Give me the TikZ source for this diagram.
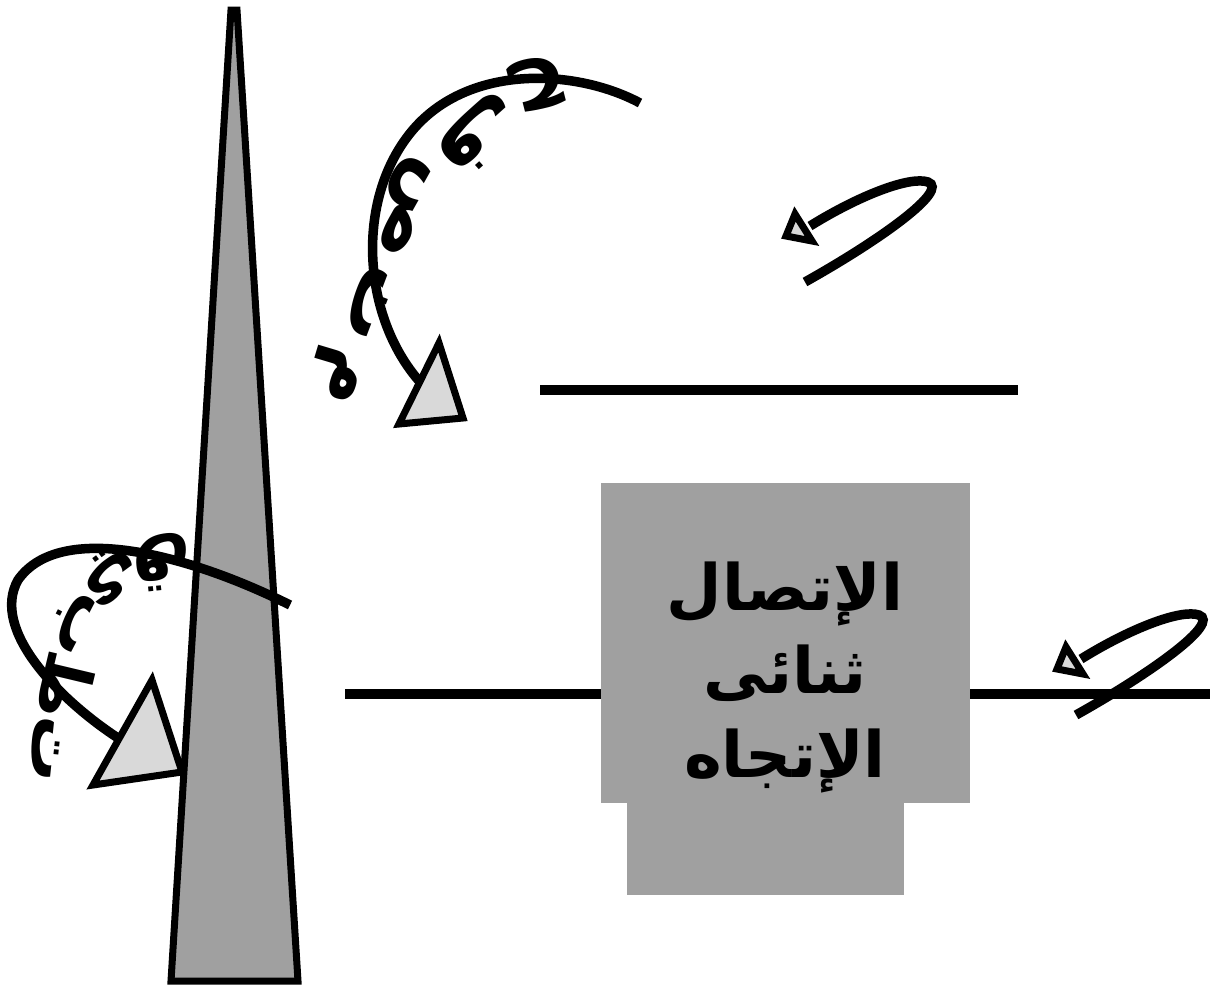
\documentclass[tikz,border=0pt]{standalone}
\usepackage{fontspec}
\usetikzlibrary{decorations.text}
\newfontfamily\arabicfont[Script=Arabic]{DejaVu Sans}
\TeXXeTstate=1
\definecolor{boxgray}{HTML}{A0A0A0}
\definecolor{headgray}{HTML}{D9D9D9}
\begin{document}
\begin{tikzpicture}[x=1pt,y=-1pt,
  conn/.style={line width=9.5pt},
  headtri/.style={draw, line width=7pt, fill=headgray, line join=miter},
  boxpart/.style={fill=boxgray, draw=none, inner sep=0pt},
  boxtext/.style={anchor=base, inner sep=0pt, font=\arabicfont\bfseries\fontsize{64}{83}\selectfont},
  curvetext/.style={decorate, decoration={text along path, text align={fit to path},
     text format delimiters={|}{|}}}]
\fill[white] (0,0) rectangle (1215,989);
\useasboundingbox (0,0) rectangle (1215,989);

% spire
\draw[line width=7pt, fill=boxgray, line join=miter] (231,10) -- (237,10) -- (298,981) -- (171,981) -- cycle;

% horizontal lines
\coordinate (h1a) at (540,390);
\coordinate (h1b) at (1018,390);
\draw[conn] (h1a) -- (h1b);

\coordinate (h2a) at (345,694);
\coordinate (h2b) at (1210,694);

% box
\node[boxpart, minimum width=277pt, minimum height=95pt] (boxlow) at (765.5,847) {};
\node[boxpart, minimum width=369pt, minimum height=320pt] (box) at (785.5,643) {};
\draw[conn] (h2a) -- (box.west |- h2a);
\draw[conn] (box.east |- h2b) -- (h2b);
\node[boxtext] (t1) at (785,610) {\beginR الإتصال\endR};
\node[boxtext] (t2) at (785,693) {\beginR ثنائى\endR};
\node[boxtext] (t3) at (785,777) {\beginR الإتجاه\endR};

% upper arc
\coordinate (ua) at (640,103);
\coordinate (ub) at (420,382);
\draw[conn] (ua) .. controls (575,68) and (460,62) .. (405,140) .. controls (355,210) and (365,320) .. (ub);
\coordinate (uh1) at (439,343);
\coordinate (uh2) at (463,418);
\coordinate (uh3) at (399,424);
\draw[headtri] (uh1) -- (uh2) -- (uh3) -- cycle;
\path[curvetext, decoration={text={|\arabicfont\bfseries\fontsize{78}{78}\selectfont|حفصتم}}]
  (565,72) .. controls (450,80) and (375,210) .. (322,400);

% left arc
\coordinate (la) at (290,605);
\coordinate (lb) at (118,738);
\draw[conn] (la) .. controls (190,555) and (60,520) .. (18,580) .. controls (-10,630) and (60,700) .. (lb);
\coordinate (lh1) at (152,680);
\coordinate (lh2) at (182,772);
\coordinate (lh3) at (93,785);
\draw[headtri] (lh1) -- (lh2) -- (lh3) -- cycle;
\path[curvetext, decoration={text={|\arabicfont\bfseries\fontsize{66}{66}\selectfont|قيبطت}}]
  (190,548) .. controls (95,540) and (42,610) .. (30,770);

% small arrows
\coordinate (sa) at (805,282);
\coordinate (sb) at (810,226);
\draw[conn] (sa) .. controls (880,240) and (950,190) .. (928,182) .. controls (910,176) and (860,195) .. (sb);
\coordinate (sh1) at (795,214);
\coordinate (sh2) at (812,241);
\coordinate (sh3) at (786,236);
\draw[headtri] (sh1) -- (sh2) -- (sh3) -- cycle;

\coordinate (ra) at (1076,715);
\coordinate (rb) at (1081,659);
\draw[conn] (ra) .. controls (1151,673) and (1221,623) .. (1199,615) .. controls (1181,609) and (1131,628) .. (rb);
\coordinate (rh1) at (1066,647);
\coordinate (rh2) at (1083,674);
\coordinate (rh3) at (1057,669);
\draw[headtri] (rh1) -- (rh2) -- (rh3) -- cycle;
\end{tikzpicture}
\end{document}
